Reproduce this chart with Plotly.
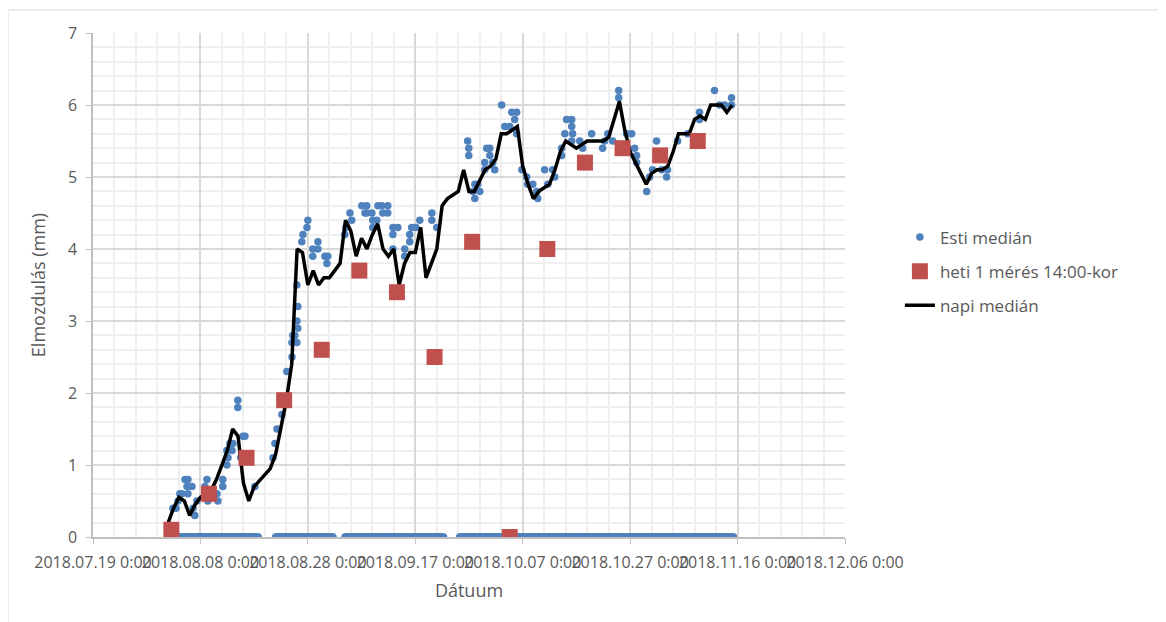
import pandas as pd
import plotly.graph_objects as go

# ---------------- data ----------------
# Esti medián: non-zero evening values
esti_dates = [
    "2018-08-02 21:00", "2018-08-03 11:00", "2018-08-03 20:00", "2018-08-04 04:00", "2018-08-04 13:00",
    "2018-08-05 03:00", "2018-08-05 12:00", "2018-08-05 16:00", "2018-08-05 16:00", "2018-08-06 10:00",
    "2018-08-06 15:00", "2018-08-06 23:00", "2018-08-07 08:00", "2018-08-08 20:00", "2018-08-09 05:00",
    "2018-08-09 09:00", "2018-08-11 02:00", "2018-08-11 06:00", "2018-08-12 04:00", "2018-08-12 04:00",
    "2018-08-12 22:00", "2018-08-13 03:00", "2018-08-12 22:00", "2018-08-13 12:00", "2018-08-13 21:00",
    "2018-08-14 01:00", "2018-08-14 23:00", "2018-08-14 23:00", "2018-08-15 12:00", "2018-08-15 22:00",
    "2018-08-16 07:00", "2018-08-18 03:00", "2018-08-21 12:00", "2018-08-21 21:00", "2018-08-22 06:00",
    "2018-08-23 04:00", "2018-08-24 02:00", "2018-08-25 01:00", "2018-08-25 01:00", "2018-08-25 05:00",
    "2018-08-25 14:00", "2018-08-25 23:00", "2018-08-26 03:00", "2018-08-25 23:00", "2018-08-26 03:00",
    "2018-08-25 23:00", "2018-08-26 21:00", "2018-08-27 02:00", "2018-08-27 20:00", "2018-08-28 00:00",
    "2018-08-28 22:00", "2018-08-28 22:00", "2018-08-29 21:00", "2018-08-29 21:00", "2018-08-31 04:00",
    "2018-08-31 13:00", "2018-08-31 17:00", "2018-09-03 21:00", "2018-09-04 02:00", "2018-09-04 20:00",
    "2018-09-05 04:00", "2018-09-07 01:00", "2018-09-07 15:00", "2018-09-07 23:00", "2018-09-07 23:00",
    "2018-09-08 22:00", "2018-09-09 02:00", "2018-09-09 20:00", "2018-09-09 02:00", "2018-09-10 01:00",
    "2018-09-10 18:00", "2018-09-10 23:00", "2018-09-11 21:00", "2018-09-11 21:00", "2018-09-12 20:00",
    "2018-09-12 20:00", "2018-09-13 18:00", "2018-09-12 20:00", "2018-09-15 01:00", "2018-09-15 01:00",
    "2018-09-15 23:00", "2018-09-15 23:00", "2018-09-16 08:00", "2018-09-17 02:00", "2018-09-17 20:00",
    "2018-09-20 02:00", "2018-09-20 02:00", "2018-09-21 00:00", "2018-09-26 18:00", "2018-09-26 23:00",
    "2018-09-26 23:00", "2018-09-28 02:00", "2018-09-27 17:00", "2018-09-28 02:00", "2018-09-28 15:00",
    "2018-09-29 00:00", "2018-09-29 22:00", "2018-09-30 07:00", "2018-09-30 21:00", "2018-09-30 21:00",
    "2018-09-29 22:00", "2018-10-01 10:00", "2018-10-01 19:00", "2018-10-03 02:00", "2018-10-03 16:00",
    "2018-10-04 14:00", "2018-10-04 23:00", "2018-10-05 21:00", "2018-10-05 12:00", "2018-10-05 21:00",
    "2018-10-06 20:00", "2018-10-07 18:00", "2018-10-07 22:00", "2018-10-08 21:00", "2018-10-09 19:00",
    "2018-10-09 15:00", "2018-10-11 02:00", "2018-10-11 16:00", "2018-10-12 14:00", "2018-10-12 23:00",
    "2018-10-14 06:00", "2018-10-14 06:00", "2018-10-14 20:00", "2018-10-15 04:00", "2018-10-16 03:00",
    "2018-10-16 07:00", "2018-10-16 03:00", "2018-10-16 03:00", "2018-10-17 15:00", "2018-10-18 04:00",
    "2018-10-19 20:00", "2018-10-21 21:00", "2018-10-22 06:00", "2018-10-22 20:00", "2018-10-23 18:00",
    "2018-10-24 21:00", "2018-10-24 21:00", "2018-10-26 08:00", "2018-10-27 07:00", "2018-10-27 20:00",
    "2018-10-28 05:00", "2018-10-28 05:00", "2018-10-30 02:00", "2018-10-30 15:00", "2018-10-31 04:00",
    "2018-10-31 22:00", "2018-11-01 21:00", "2018-11-02 19:00", "2018-11-02 23:00", "2018-11-04 20:00",
    "2018-11-06 17:00", "2018-11-08 22:00", "2018-11-08 22:00", "2018-11-11 17:00", "2018-11-12 16:00",
    "2018-11-13 14:00", "2018-11-14 21:00", "2018-11-14 21:00",
]
esti_values = [
    0.4, 0.4, 0.5, 0.6, 0.6,
    0.8, 0.7, 0.8, 0.6, 0.7,
    0.4, 0.3, 0.5, 0.7, 0.8,
    0.5, 0.6, 0.5, 0.8, 0.7,
    1.0, 1.1, 1.2, 1.3, 1.2,
    1.3, 1.9, 1.8, 1.1, 1.4,
    1.4, 0.7, 1.1, 1.3, 1.5,
    1.7, 2.3, 2.5, 2.7, 2.8,
    2.8, 2.7, 2.9, 3.0, 3.2,
    3.5, 4.1, 4.2, 4.3, 4.4,
    4.0, 3.9, 4.1, 4.0, 3.9,
    3.8, 3.9, 4.2, 4.3, 4.5,
    4.4, 4.6, 4.5, 4.6, 4.5,
    4.5, 4.4, 4.4, 4.3, 4.6,
    4.6, 4.5, 4.6, 4.5, 4.3,
    4.2, 4.3, 4.0, 4.0, 3.9,
    4.1, 4.2, 4.3, 4.3, 4.4,
    4.5, 4.4, 4.3, 5.5, 5.4,
    5.3, 4.9, 4.8, 4.7, 4.9,
    4.8, 5.1, 5.4, 5.4, 5.3,
    5.2, 5.2, 5.1, 6.0, 5.7,
    5.7, 5.9, 5.9, 5.8, 5.6,
    5.1, 5.0, 4.9, 4.9, 4.7,
    4.8, 5.1, 4.9, 5.1, 5.0,
    5.3, 5.4, 5.6, 5.8, 5.8,
    5.6, 5.5, 5.7, 5.5, 5.4,
    5.6, 5.4, 5.5, 5.6, 5.5,
    6.2, 6.1, 5.6, 5.6, 5.4,
    5.3, 5.2, 4.8, 5.0, 5.1,
    5.5, 5.1, 5.0, 5.1, 5.5,
    5.6, 5.8, 5.9, 6.2, 6.0,
    6.0, 6.1, 6.0,
]
# Esti medián: periods where the series sits at zero
esti_zero_starts = ["2018-08-03 10:00", "2018-08-22 00:00", "2018-09-03 22:00", "2018-09-25 06:00"]
esti_zero_ends = ["2018-08-18 20:00", "2018-09-01 18:00", "2018-09-22 06:00", "2018-11-15 06:00"]

# heti 1 mérés 14:00-kor
heti_dates = [
    "2018-08-02 14:00", "2018-08-09 14:00", "2018-08-16 14:00", "2018-08-23 14:00", "2018-08-30 14:00",
    "2018-09-06 14:00", "2018-09-13 14:00", "2018-09-20 14:00", "2018-09-27 14:00", "2018-10-04 14:00",
    "2018-10-11 14:00", "2018-10-18 14:00", "2018-10-25 14:00", "2018-11-01 14:00", "2018-11-08 14:00",
]
heti_values = [0.1, 0.6, 1.1, 1.9, 2.6, 3.7, 3.4, 2.5, 4.1, 0.0, 4.0, 5.2, 5.4, 5.3, 5.5]

# napi medián
napi_dates = [
    "2018-08-02", "2018-08-03", "2018-08-04", "2018-08-05", "2018-08-06", "2018-08-07", "2018-08-08",
    "2018-08-09", "2018-08-10", "2018-08-11", "2018-08-12", "2018-08-13", "2018-08-14", "2018-08-15",
    "2018-08-16", "2018-08-17", "2018-08-18",
    "2018-08-21", "2018-08-22", "2018-08-23", "2018-08-24", "2018-08-25", "2018-08-26", "2018-08-27",
    "2018-08-28", "2018-08-29", "2018-08-30", "2018-08-31",
    "2018-09-01", "2018-09-02", "2018-09-03", "2018-09-04", "2018-09-05", "2018-09-06", "2018-09-07",
    "2018-09-08", "2018-09-09", "2018-09-10", "2018-09-11", "2018-09-12", "2018-09-13", "2018-09-14",
    "2018-09-15", "2018-09-16", "2018-09-17", "2018-09-18", "2018-09-19", "2018-09-20", "2018-09-21",
    "2018-09-22", "2018-09-23", "2018-09-24", "2018-09-25", "2018-09-26", "2018-09-27", "2018-09-28",
    "2018-09-29", "2018-09-30",
    "2018-10-01", "2018-10-02", "2018-10-03", "2018-10-04", "2018-10-05", "2018-10-06", "2018-10-07",
    "2018-10-08", "2018-10-09", "2018-10-10", "2018-10-11", "2018-10-12", "2018-10-13", "2018-10-14",
    "2018-10-15", "2018-10-16", "2018-10-17", "2018-10-18", "2018-10-19", "2018-10-20", "2018-10-21",
    "2018-10-22", "2018-10-23", "2018-10-24", "2018-10-25", "2018-10-26", "2018-10-27", "2018-10-28",
    "2018-10-29", "2018-10-30", "2018-10-31",
    "2018-11-01", "2018-11-02", "2018-11-03", "2018-11-04", "2018-11-05", "2018-11-06", "2018-11-07",
    "2018-11-08", "2018-11-09", "2018-11-10", "2018-11-11", "2018-11-12", "2018-11-13", "2018-11-14",
    "2018-11-15",
]
napi_values = [
    0.2, 0.4, 0.55, 0.5, 0.3, 0.45, 0.55, 0.6, 0.65, 0.8, 1.0, 1.2, 1.5, 1.4, 0.75, 0.5, 0.7,
    0.95, 1.15, 1.5, 1.9, 2.4, 4.0, 3.95, 3.5, 3.7, 3.5, 3.6,
    3.6, 3.7, 3.8, 4.4, 4.25, 3.9, 4.15, 4.0, 4.2, 4.35, 4.0, 3.9, 4.0, 3.5,
    3.8, 3.95, 3.95, 4.3, 3.6, 3.8, 4.0, 4.6, 4.7, 4.75, 4.8, 5.1, 4.8, 4.8, 4.95, 5.1,
    5.15, 5.25, 5.6, 5.6, 5.65, 5.7, 5.15, 4.9, 4.7, 4.8, 4.85, 4.9, 5.1, 5.35,
    5.5, 5.45, 5.4, 5.45, 5.5, 5.5, 5.5, 5.5, 5.55, 5.8, 6.05, 5.65, 5.35, 5.2, 5.05, 4.9, 5.05,
    5.1, 5.1, 5.15, 5.35, 5.6, 5.6, 5.6, 5.8, 5.85, 5.8, 6.0, 6.0, 6.0, 5.9, 6.0,
]

x_tick_start = "2018-07-19"
x_range = ["2018-07-19", "2018-12-06"]

# ---------------- figure ----------------
BLUE = "#4f81bd"
RED = "#c0504d"
TEXT = "#595959"
FONT = "Open Sans"

zero_x = []
for s, e in zip(esti_zero_starts, esti_zero_ends):
    zero_x.extend(list(pd.date_range(s, e, freq="4h")))
zero_y = [0.0] * len(zero_x)

blue_x = list(pd.to_datetime(esti_dates)) + zero_x
blue_y = list(esti_values) + zero_y

fig = go.Figure()
fig.add_trace(go.Scatter(
    x=blue_x, y=blue_y, mode="markers", name="Esti medián",
    marker=dict(color=BLUE, size=7.5, symbol="circle"),
    legendgroup="a", legendrank=1,
))
fig.add_trace(go.Scatter(
    x=pd.to_datetime(napi_dates), y=napi_values, mode="lines", name="napi medián",
    line=dict(color="black", width=3.5),
    legendgroup="c", legendrank=3,
))
fig.add_trace(go.Scatter(
    x=pd.to_datetime(heti_dates), y=heti_values, mode="markers", name="heti 1 mérés 14:00-kor",
    marker=dict(color=RED, size=16, symbol="square"),
    legendgroup="b", legendrank=2,
))

DAY_MS = 86400000
fig.update_xaxes(
    type="date",
    range=x_range,
    tick0=x_tick_start,
    dtick=20 * DAY_MS,
    tickformat="%Y.%m.%d %-H:%M",
    tickangle=0,
    tickfont=dict(family=FONT, size=16, color=TEXT),
    ticks="outside", ticklen=5, tickcolor="#bfbfbf",
    ticklabelstandoff=5,
    showline=True, linecolor="#bfbfbf", linewidth=1.5,
    showgrid=True, gridcolor="#d9d9d9", gridwidth=1.5,
    minor=dict(dtick=4 * DAY_MS, tick0=x_tick_start, showgrid=True, gridcolor="#efefef", gridwidth=1.5),
    title=dict(text="Dátuum", font=dict(family=FONT, size=18, color=TEXT), standoff=12),
    zeroline=False,
)
fig.update_yaxes(
    range=[0, 7],
    dtick=1,
    tickfont=dict(family=FONT, size=16, color=TEXT),
    ticks="outside", ticklen=5, tickcolor="#bfbfbf",
    ticklabelstandoff=6,
    showline=True, linecolor="#bfbfbf", linewidth=1.5,
    showgrid=True, gridcolor="#d9d9d9", gridwidth=1.5,
    minor=dict(dtick=0.2, showgrid=True, gridcolor="#efefef", gridwidth=1.5),
    title=dict(text="Elmozdulás (mm)", font=dict(family=FONT, size=18, color=TEXT), standoff=18),
    zeroline=False,
)

# page body has an 8px margin, so the figure is 8px smaller than the window
fig.update_layout(
    width=1158, height=614,
    margin=dict(l=85, r=321, t=25, b=85),
    paper_bgcolor="white", plot_bgcolor="white",
    showlegend=True,
    legend=dict(
        x=1.073, y=0.63, xanchor="left", yanchor="top",
        font=dict(family=FONT, size=17, color=TEXT),
        traceorder="grouped", tracegroupgap=9,
        bgcolor="rgba(0,0,0,0)",
    ),
    shapes=[
        dict(type="line", xref="paper", yref="paper", x0=-0.113, x1=-0.113, y0=-0.2, y1=1.0456,
             line=dict(color="#d9d9d9", width=1)),
        dict(type="line", xref="paper", yref="paper", x0=-0.113, x1=1.45, y0=1.0456, y1=1.0456,
             line=dict(color="#d9d9d9", width=1)),
    ],
)

fig.write_html("out.html")
